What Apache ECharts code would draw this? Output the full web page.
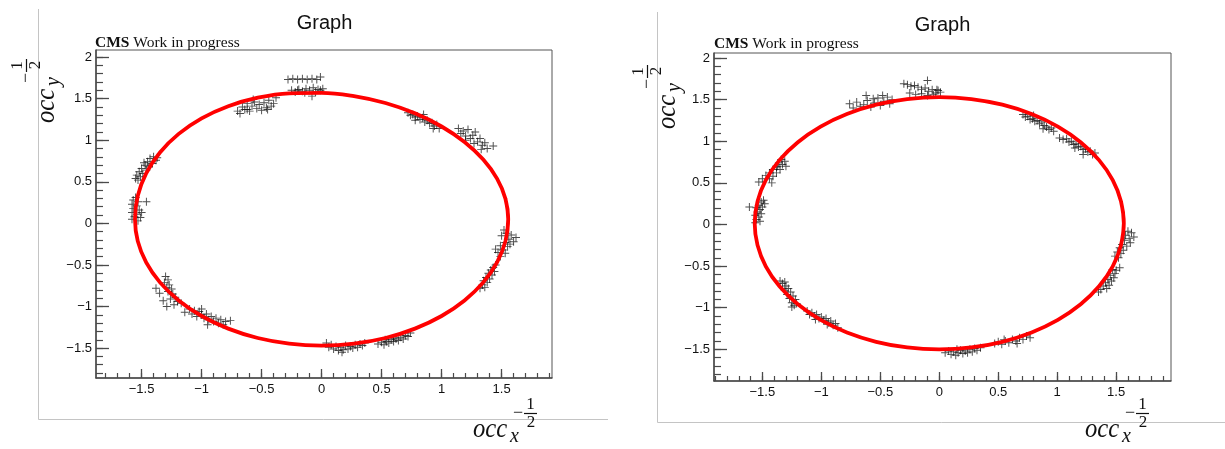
<!DOCTYPE html>
<html>
<head>
<meta charset="utf-8">
<script src="https://cdn.jsdelivr.net/npm/echarts@6/dist/echarts.min.js"></script>
<style>
  html, body { margin: 0; padding: 0; background: #fff; }
  #chart { width: 1225px; height: 449px; }
</style>
</head>
<body>
<div id="chart"></div>
<script>
// Tick labels shared by both panels
const xMajorTicks = [-1.5, -1, -0.5, 0, 0.5, 1, 1.5];
const yMajorTicks = [-1.5, -1, -0.5, 0, 0.5, 1, 1.5, 2];

// Measured hit positions, left panel
const leftHits = [
  [-0.28,1.73],[-0.24,1.74],[-0.2,1.73],[-0.16,1.74],[-0.12,1.73],[-0.08,1.74],[-0.04,1.73],[-0.01,1.76],
  [-0.25,1.6],[-0.22,1.58],[-0.19,1.61],[-0.16,1.59],[-0.13,1.62],[-0.1,1.6],[-0.07,1.63],[-0.05,1.58],
  [-0.03,1.61],[-0.01,1.6],[0.01,1.62],[-0.08,1.53],[-0.14,1.57],[-0.2,1.6],
  [-0.70,1.35],[-0.68,1.32],[-0.66,1.40],[-0.64,1.37],[-0.62,1.44],[-0.60,1.35],[-0.58,1.41],[-0.56,1.46],
  [-0.54,1.38],[-0.52,1.43],[-0.50,1.36],[-0.48,1.45],[-0.46,1.39],[-0.44,1.48],[-0.42,1.41],[-0.40,1.44],
  [-0.38,1.51],[-0.62,1.37],[-0.57,1.49],[-0.45,1.37],
  [0.72,1.33],[0.74,1.30],[0.76,1.31],[0.78,1.28],[0.80,1.29],[0.82,1.25],[0.84,1.27],[0.86,1.22],
  [0.88,1.24],[0.90,1.20],[0.92,1.21],[0.94,1.17],[0.96,1.19],[0.98,1.14],[0.85,1.31],[0.93,1.14],[0.78,1.24],
  [1.14,1.14],[1.16,1.08],[1.18,1.11],[1.20,1.05],[1.22,1.13],[1.24,1.02],[1.26,1.06],[1.28,1.10],
  [1.30,0.98],[1.32,1.02],[1.34,0.94],[1.36,0.97],[1.38,0.90],[1.27,0.96],[1.33,0.89],[1.43,0.93],[1.20,1.0],
  [1.52,-0.08],[1.54,-0.12],[1.50,-0.15],[1.58,-0.14],[1.62,-0.17],[1.56,-0.19],[1.53,-0.23],[1.60,-0.22],
  [1.49,-0.27],[1.55,-0.28],[1.51,-0.32],[1.47,-0.35],[1.53,-0.36],[1.49,-0.40],[1.57,-0.25],[1.45,-0.31],
  [1.45,-0.50],[1.43,-0.53],[1.41,-0.56],[1.44,-0.58],[1.39,-0.60],[1.42,-0.62],[1.37,-0.65],[1.40,-0.67],
  [1.35,-0.69],[1.38,-0.71],[1.34,-0.74],[1.36,-0.77],[1.32,-0.78],
  [0.47,-1.45],[0.50,-1.43],[0.52,-1.46],[0.54,-1.42],[0.56,-1.44],[0.58,-1.40],[0.60,-1.42],[0.62,-1.39],
  [0.64,-1.41],[0.66,-1.37],[0.68,-1.39],[0.70,-1.35],[0.72,-1.36],[0.74,-1.32],[0.60,-1.38],[0.53,-1.40],
  [0.04,-1.44],[0.06,-1.49],[0.08,-1.46],[0.10,-1.51],[0.12,-1.48],[0.14,-1.53],[0.16,-1.49],[0.18,-1.52],
  [0.20,-1.47],[0.22,-1.51],[0.24,-1.48],[0.26,-1.50],[0.28,-1.46],[0.30,-1.49],[0.32,-1.45],[0.34,-1.47],
  [0.36,-1.44],[0.17,-1.55],
  [-1.14,-1.07],[-1.10,-1.03],[-1.08,-1.09],[-1.06,-1.05],[-1.04,-1.12],[-1.02,-1.06],[-1.00,-1.10],[-0.98,-1.14],
  [-0.96,-1.09],[-0.94,-1.16],[-0.92,-1.12],[-0.90,-1.18],[-0.88,-1.14],[-0.86,-1.20],[-0.84,-1.16],[-0.82,-1.22],
  [-0.80,-1.18],[-0.76,-1.17],[-1.0,-1.03],[-0.95,-1.22],
  [-1.30,-0.64],[-1.28,-0.68],[-1.31,-0.71],[-1.27,-0.74],[-1.29,-0.77],[-1.25,-0.79],[-1.28,-0.82],[-1.24,-0.85],
  [-1.38,-0.78],[-1.35,-0.84],[-1.22,-0.89],[-1.26,-0.91],[-1.20,-0.94],[-1.32,-0.93],[-1.29,-1.00],[-1.17,-0.96],[-1.23,-0.98],
  [-1.40,0.80],[-1.43,0.78],[-1.38,0.76],[-1.45,0.74],[-1.41,0.72],[-1.47,0.70],[-1.44,0.68],[-1.50,0.66],
  [-1.46,0.64],[-1.52,0.62],[-1.49,0.60],[-1.54,0.58],[-1.51,0.56],[-1.55,0.54],[-1.53,0.52],[-1.37,0.79],[-1.48,0.73],
  [-1.55,0.31],[-1.57,0.28],[-1.53,0.26],[-1.58,0.23],[-1.54,0.21],[-1.57,0.18],[-1.52,0.16],[-1.58,0.13],
  [-1.54,0.11],[-1.56,0.08],[-1.51,0.07],[-1.58,0.05],[-1.53,0.03],[-1.46,0.26],[-1.50,0.13]
];

// Fitted ellipse, left panel, every 10 degrees (loop closed with overlap)
const leftFit = [
  [1.532,-0.214],[1.555,0.050],[1.532,0.297],[1.462,0.538],[1.347,0.767],[1.191,0.978],[1.000,1.165],
  [0.778,1.323],[0.532,1.447],[0.270,1.530],[0,1.570],[-0.270,1.564],[-0.532,1.511],[-0.778,1.409],
  [-1.000,1.263],[-1.191,1.076],[-1.347,0.853],[-1.462,0.602],[-1.532,0.331],[-1.555,0.050],[-1.532,-0.214],
  [-1.462,-0.470],[-1.347,-0.710],[-1.191,-0.927],[-1.000,-1.114],[-0.778,-1.266],[-0.532,-1.379],
  [-0.270,-1.447],[0,-1.470],[0.270,-1.447],[0.532,-1.379],[0.778,-1.266],[1.000,-1.114],[1.191,-0.927],
  [1.347,-0.710],[1.462,-0.470],[1.532,-0.214],[1.555,0.050],[1.532,0.297]
];

// Measured hit positions, right panel
const rightHits = [
  [-0.30,1.69],[-0.27,1.68],[-0.24,1.66],[-0.21,1.67],[-0.18,1.65],[-0.15,1.62],[-0.12,1.64],[-0.09,1.60],
  [-0.06,1.62],[-0.03,1.58],[-0.01,1.61],[0.01,1.59],[-0.25,1.58],[-0.20,1.56],[-0.15,1.57],[-0.10,1.55],
  [-0.05,1.56],[-0.1,1.73],[-0.02,1.62],
  [-0.76,1.45],[-0.73,1.40],[-0.70,1.47],[-0.67,1.42],[-0.64,1.44],[-0.61,1.49],[-0.58,1.41],[-0.55,1.46],
  [-0.52,1.52],[-0.50,1.43],[-0.47,1.48],[-0.44,1.53],[-0.42,1.45],[-0.40,1.50],[-0.62,1.55],[-0.56,1.51],[-0.48,1.55],
  [0.71,1.32],[0.73,1.29],[0.75,1.30],[0.77,1.26],[0.79,1.27],[0.81,1.24],[0.83,1.25],[0.85,1.21],
  [0.87,1.23],[0.89,1.19],[0.91,1.17],[0.93,1.14],[0.95,1.16],[0.97,1.12],[0.80,1.31],[0.88,1.15],
  [1.02,1.04],[1.05,1.02],[1.08,1.03],[1.10,0.99],[1.12,1.00],[1.14,0.96],[1.16,0.97],[1.18,0.93],
  [1.20,0.94],[1.22,0.90],[1.24,0.91],[1.26,0.87],[1.28,0.88],[1.30,0.84],[1.32,0.86],[1.22,0.84],[1.15,0.92],
  [1.60,-0.08],[1.63,-0.10],[1.58,-0.13],[1.65,-0.15],[1.61,-0.17],[1.57,-0.19],[1.62,-0.22],[1.55,-0.24],
  [1.59,-0.26],[1.53,-0.28],[1.56,-0.31],[1.51,-0.33],[1.54,-0.35],[1.49,-0.38],[1.52,-0.40],
  [1.53,-0.52],[1.50,-0.55],[1.47,-0.54],[1.49,-0.59],[1.45,-0.61],[1.48,-0.64],[1.43,-0.66],[1.46,-0.68],
  [1.41,-0.70],[1.44,-0.73],[1.39,-0.74],[1.42,-0.77],[1.37,-0.78],[1.35,-0.81],
  [0.47,-1.43],[0.50,-1.41],[0.53,-1.44],[0.56,-1.40],[0.59,-1.42],[0.62,-1.38],[0.65,-1.40],[0.68,-1.36],
  [0.71,-1.38],[0.74,-1.34],[0.77,-1.36],[0.55,-1.38],[0.66,-1.43],
  [0.05,-1.54],[0.08,-1.52],[0.10,-1.56],[0.12,-1.53],[0.14,-1.57],[0.16,-1.54],[0.18,-1.51],[0.20,-1.55],
  [0.22,-1.52],[0.24,-1.54],[0.26,-1.50],[0.28,-1.53],[0.30,-1.49],[0.32,-1.51],[0.35,-1.48],[0.15,-1.50],
  [-1.12,-1.04],[-1.10,-1.08],[-1.08,-1.06],[-1.06,-1.10],[-1.04,-1.08],[-1.02,-1.13],[-1.00,-1.11],[-0.98,-1.15],
  [-0.96,-1.13],[-0.94,-1.18],[-0.92,-1.16],[-0.90,-1.21],[-0.88,-1.19],[-0.86,-1.24],[-1.05,-1.14],[-0.95,-1.20],
  [-1.35,-0.68],[-1.33,-0.71],[-1.31,-0.69],[-1.30,-0.74],[-1.28,-0.77],[-1.31,-0.79],[-1.26,-0.81],[-1.29,-0.84],
  [-1.24,-0.86],[-1.27,-0.89],[-1.22,-0.90],[-1.25,-0.94],[-1.21,-0.95],[-1.25,-0.99],[-1.23,-0.97],
  [-1.31,0.76],[-1.34,0.78],[-1.33,0.72],[-1.36,0.74],[-1.30,0.70],[-1.38,0.69],[-1.35,0.66],[-1.41,0.66],
  [-1.38,0.62],[-1.44,0.62],[-1.41,0.58],[-1.47,0.59],[-1.44,0.55],[-1.50,0.55],[-1.53,0.51],[-1.42,0.50],[-1.37,0.70],
  [-1.49,0.29],[-1.51,0.27],[-1.48,0.25],[-1.53,0.23],[-1.50,0.21],[-1.55,0.20],[-1.52,0.18],[-1.61,0.21],
  [-1.54,0.15],[-1.51,0.13],[-1.56,0.11],[-1.53,0.09],[-1.55,0.06],[-1.52,0.04],[-1.56,0.02]
];

// Fitted ellipse, right panel, every 10 degrees
const rightFit = [
  [1.541,-0.248],[1.565,0.015],[1.541,0.278],[1.471,0.533],[1.355,0.773],[1.199,0.989],[1.006,1.176],
  [0.783,1.327],[0.535,1.439],[0.272,1.507],[0,1.530],[-0.272,1.507],[-0.535,1.439],[-0.783,1.327],
  [-1.006,1.176],[-1.199,0.989],[-1.355,0.773],[-1.471,0.533],[-1.541,0.278],[-1.565,0.015],[-1.541,-0.248],
  [-1.471,-0.503],[-1.355,-0.743],[-1.199,-0.959],[-1.006,-1.146],[-0.783,-1.297],[-0.535,-1.409],
  [-0.272,-1.477],[0,-1.500],[0.272,-1.477],[0.535,-1.409],[0.783,-1.297],[1.006,-1.146],[1.199,-0.959],
  [1.355,-0.743],[1.471,-0.503],[1.541,-0.248],[1.565,0.015],[1.541,0.278]
];

// Panel axis ranges
const leftRange = { xMin: -1.88, xMax: 1.92, yMin: -1.86, yMax: 2.085 };
const rightRange = { xMin: -1.91, xMax: 1.965, yMin: -1.88, yMax: 2.06 };

// Minor tick positions every 0.1
function minorSteps(lo, hi) {
  const out = [];
  for (let k = Math.ceil(lo * 10); k <= Math.floor(hi * 10); k++) out.push(k / 10);
  return out;
}

const AXIS_COLOR = '#4a4a4a';
const LABEL_FONT = 'Liberation Sans';
const minusFmt = v => String(v).replace('-', '\u2212');

function xAxes(grid, r) {
  return [
    {
      type: 'value', gridIndex: grid, min: r.xMin, max: r.xMax, position: 'bottom',
      axisLine: { show: true, onZero: false, lineStyle: { color: AXIS_COLOR, width: 1.5 } },
      axisTick: { show: true, inside: true, length: 9, customValues: xMajorTicks, lineStyle: { color: AXIS_COLOR, width: 1.3 } },
      axisLabel: { customValues: xMajorTicks, formatter: minusFmt, margin: 5, fontFamily: LABEL_FONT, fontSize: 13, color: '#111' },
      splitLine: { show: false }
    },
    {
      type: 'value', gridIndex: grid, min: r.xMin, max: r.xMax, position: 'bottom',
      axisLine: { show: false, onZero: false },
      axisTick: { show: true, inside: true, length: 5, customValues: minorSteps(r.xMin, r.xMax), lineStyle: { color: AXIS_COLOR, width: 1.2 } },
      axisLabel: { show: false },
      splitLine: { show: false }
    }
  ];
}

function yAxes(grid, r) {
  return [
    {
      type: 'value', gridIndex: grid, min: r.yMin, max: r.yMax, position: 'left',
      axisLine: { show: true, onZero: false, lineStyle: { color: AXIS_COLOR, width: 1.5 } },
      axisTick: { show: true, inside: true, length: 13, customValues: yMajorTicks, lineStyle: { color: AXIS_COLOR, width: 1.3 } },
      axisLabel: { customValues: yMajorTicks, formatter: minusFmt, margin: 4, fontFamily: LABEL_FONT, fontSize: 13, color: '#111' },
      splitLine: { show: false }
    },
    {
      type: 'value', gridIndex: grid, min: r.yMin, max: r.yMax, position: 'left',
      axisLine: { show: false, onZero: false },
      axisTick: { show: true, inside: true, length: 7, customValues: minorSteps(r.yMin, r.yMax), lineStyle: { color: AXIS_COLOR, width: 1.2 } },
      axisLabel: { show: false },
      splitLine: { show: false }
    }
  ];
}

const PLUS = 'path://M0,4.4H10V5.6H0Z M4.4,0H5.6V10H4.4Z';

function hitSeries(axisIdx, data) {
  return {
    type: 'scatter', xAxisIndex: axisIdx, yAxisIndex: axisIdx, data: data,
    symbol: PLUS, symbolSize: 8, silent: true, z: 2,
    itemStyle: { color: '#111', opacity: 0.75 }
  };
}

function fitSeries(axisIdx, data) {
  return {
    type: 'line', xAxisIndex: axisIdx, yAxisIndex: axisIdx, data: data,
    smooth: 0.4, smoothMonotone: null, showSymbol: false, symbol: 'none', silent: true, z: 3,
    lineStyle: { color: '#ff0000', width: 3.8 }
  };
}

// Axis title: occ with subscript and a -1/2 exponent, built in local coordinates
// (origin at the start of "occ" on its baseline); lift raises the exponent further.
function axisTitle(sub, x, y, rotation, lift) {
  const serif = '"Liberation Serif", "DejaVu Serif", serif';
  const up = -(lift || 0);
  return {
    type: 'group', x: x, y: y, rotation: rotation,
    children: [
      { type: 'text', x: 0, y: 0, scaleX: 0.88,
        style: { text: 'occ', font: 'italic 28px ' + serif, fill: '#111', align: 'left', verticalAlign: 'bottom' } },
      { type: 'text', x: 37, y: 3,
        style: { text: sub, font: 'italic 20px ' + serif, fill: '#111', align: 'left', verticalAlign: 'bottom' } },
      { type: 'text', x: 45, y: -31 + up,
        style: { text: '\u2212', font: '18px ' + serif, fill: '#111', align: 'center', verticalAlign: 'middle' } },
      { type: 'line', shape: { x1: 51, y1: -30.5 + up, x2: 64, y2: -30.5 + up }, style: { stroke: '#111', lineWidth: 1.2 } },
      { type: 'text', x: 57.5, y: -39 + up,
        style: { text: '1', font: '17px ' + serif, fill: '#111', align: 'center', verticalAlign: 'middle' } },
      { type: 'text', x: 58, y: -21 + up,
        style: { text: '2', font: '17px ' + serif, fill: '#111', align: 'center', verticalAlign: 'middle' } }
    ]
  };
}

function frameLines(x, yTop, yBottom, xRight) {
  return [
    { type: 'line', shape: { x1: x, y1: yTop, x2: x, y2: yBottom }, style: { stroke: '#c4c4c4', lineWidth: 1 } },
    { type: 'line', shape: { x1: x, y1: yBottom, x2: xRight, y2: yBottom }, style: { stroke: '#c4c4c4', lineWidth: 1 } }
  ];
}

function headerTexts(graphX, graphY, cmsX, cmsY) {
  return [
    { type: 'text', x: graphX, y: graphY,
      style: { text: 'Graph', font: '20px "Liberation Sans", Arial, sans-serif', fill: '#111', align: 'center', verticalAlign: 'middle' } },
    { type: 'text', x: cmsX, y: cmsY,
      style: {
        text: '{b|CMS} Work in progress', font: '15.5px "Liberation Serif", serif', fill: '#111',
        align: 'left', verticalAlign: 'middle',
        rich: { b: { fontWeight: 'bold', fontSize: 15.5, fontFamily: '"Liberation Serif", serif' } }
      } }
  ];
}

const chart = echarts.init(document.getElementById('chart'), null, { renderer: 'canvas' });

chart.setOption({
  backgroundColor: '#ffffff',
  animation: false,
  grid: [
    { left: 96, top: 50, width: 456, height: 328, show: true, borderColor: '#555', borderWidth: 1, backgroundColor: 'transparent' },
    { left: 714, top: 53, width: 457, height: 328, show: true, borderColor: '#555', borderWidth: 1, backgroundColor: 'transparent' }
  ],
  xAxis: [].concat(xAxes(0, leftRange), xAxes(1, rightRange)),
  yAxis: [].concat(yAxes(0, leftRange), yAxes(1, rightRange)),
  series: [
    hitSeries(0, leftHits),
    fitSeries(0, leftFit),
    hitSeries(2, rightHits),
    fitSeries(2, rightFit)
  ],
  graphic: [].concat(
    frameLines(38.5, 9, 419.5, 608),
    frameLines(657.5, 12, 422.5, 1225),
    headerTexts(324.5, 23, 95, 43),
    headerTexts(942.5, 25, 714, 44),
    [
      axisTitle('x', 473, 444, 0, 0),
      axisTitle('y', 61, 123, Math.PI / 2, 4),
      axisTitle('x', 1085, 444, 0, 0),
      axisTitle('y', 682, 129, Math.PI / 2, 4)
    ]
  )
});
</script>
</body>
</html>
